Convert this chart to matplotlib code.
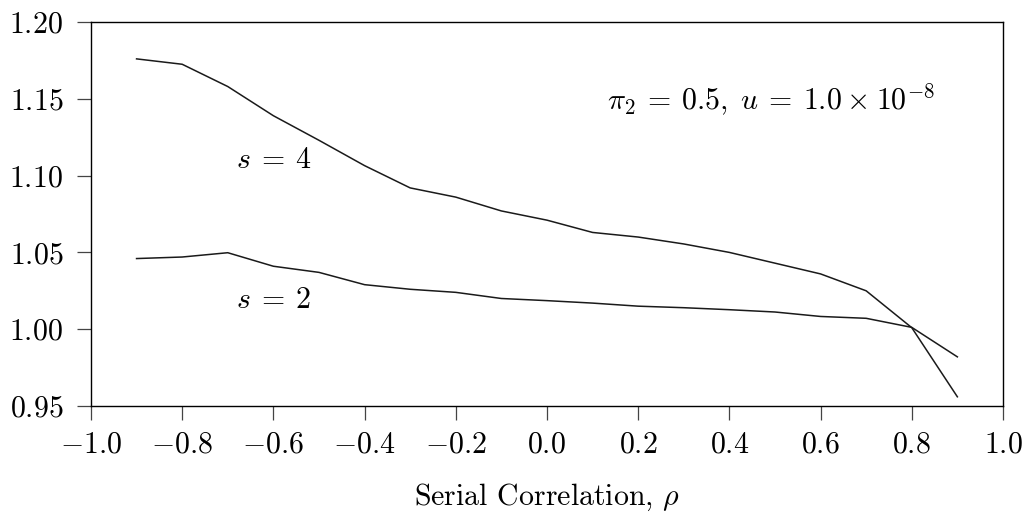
import matplotlib
matplotlib.use("Agg")
import matplotlib.pyplot as plt

plt.rcParams['mathtext.fontset'] = 'cm'
plt.rcParams['font.family'] = 'serif'
plt.rcParams['font.serif'] = ['cmr10', 'DejaVu Serif']

rho = [-0.9, -0.8, -0.7, -0.6, -0.5, -0.4, -0.3, -0.2, -0.1, 0.0,
       0.1, 0.2, 0.3, 0.4, 0.5, 0.6, 0.7, 0.8, 0.9]
s4 = [1.176, 1.1725, 1.158, 1.139, 1.123, 1.1065, 1.092, 1.086, 1.077, 1.071,
      1.063, 1.060, 1.0555, 1.050, 1.043, 1.036, 1.025, 1.001, 0.956]
s2 = [1.046, 1.047, 1.0498, 1.041, 1.037, 1.029, 1.026, 1.024, 1.020, 1.0186,
      1.017, 1.015, 1.014, 1.0127, 1.0112, 1.0083, 1.0071, 1.0012, 0.982]

xticks = [-1.0, -0.8, -0.6, -0.4, -0.2, 0.0, 0.2, 0.4, 0.6, 0.8, 1.0]
yticks = [0.95, 1.00, 1.05, 1.10, 1.15, 1.20]

FS = 21.5
fig = plt.figure(figsize=(10.29, 5.18), dpi=100)
ax = fig.add_axes([0.0884, 0.2162, 0.8863, 0.7413])

ax.plot(rho, s4, color='#1a1a1a', lw=1.1)
ax.plot(rho, s2, color='#1a1a1a', lw=1.1)

ax.text(-0.6, 1.110, r'$s\:=\:4$', fontsize=FS, ha='center', va='center')
ax.text(-0.6, 1.019, r'$s\:=\:2$', fontsize=FS, ha='center', va='center')
ax.text(0.132, 1.149,
        r'$\pi_2\:=\:0.5,\;u\:=\:1.0\:\times\:10^{-8}$',
        fontsize=21.5, ha='left', va='center')

ax.set_xlim(-1.0, 1.0)
ax.set_ylim(0.95, 1.20)
ax.set_xticks(xticks)
ax.set_xticklabels(['$%.1f$' % v if v != 0 else '$0.0$' for v in xticks])
ax.set_yticks(yticks)
ax.set_yticklabels(['$%.2f$' % v for v in yticks])
ax.tick_params(direction='out', length=10, width=0.9, labelsize=FS,
               color='#444444')
ax.tick_params(axis='x', pad=8)
ax.tick_params(axis='y', pad=10)
for sp in ax.spines.values():
    sp.set_linewidth(1.0)

ax.set_xlabel(r'Serial Correlation, $\rho$', fontsize=FS, labelpad=17)

fig.savefig('out.png', dpi=100)
